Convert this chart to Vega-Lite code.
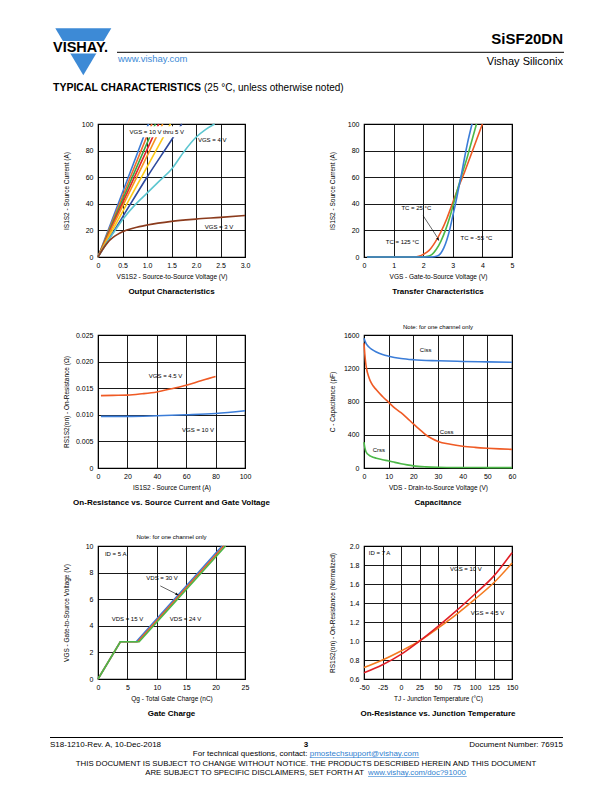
{
  "$schema": "https://vega.github.io/schema/vega-lite/v6.json",
  "autosize": {"type": "none"},
  "padding": {"left": 98, "top": 0, "right": 514, "bottom": 792},
  "background": "white",
  "columns": 2,
  "align": "each",
  "bounds": "flush",
  "spacing": {"row": 78, "column": 119},
  "resolve": {"scale": {"color": "independent"}, "legend": {"color": "independent"}},
  "config": {
    "font": "Liberation Sans",
    "view": {"stroke": "#000000", "strokeWidth": 1.2},
    "axis": {"grid": true, "gridColor": "#000000", "gridWidth": 0.9, "gridOpacity": 1, "domain": false, "ticks": false, "labelFont": "Liberation Sans", "labelFontSize": 7, "labelColor": "#000000", "labelPadding": 4, "labelOverlap": false, "labelFlush": false, "titleFont": "Liberation Sans", "titleFontSize": 6.5, "titleFontWeight": "normal", "titleColor": "#000000"},
    "axisY": {"labelPadding": 5, "titleX": -29, "titleY": 66.5},
    "axisX": {"titleY": 16, "titleX": 73.5},
    "title": {"font": "Liberation Sans", "fontSize": 8, "fontWeight": "bold", "color": "#000000", "orient": "bottom", "frame": "group", "anchor": "middle", "offset": 8.5},
    "text": {"font": "Liberation Sans", "color": "#000000"}
  },
  "datasets": {
    "out": [
      {"v": 0, "i": 0, "s": "10"}, {"v": 0.5, "i": 48.5, "s": "10"}, {"v": 1.03, "i": 100, "s": "10"},
      {"v": 0, "i": 0, "s": "9"}, {"v": 0.5, "i": 45.5, "s": "9"}, {"v": 1.1, "i": 100, "s": "9"},
      {"v": 0, "i": 0, "s": "8"}, {"v": 0.5, "i": 43, "s": "8"}, {"v": 1.17, "i": 100, "s": "8"},
      {"v": 0, "i": 0, "s": "7"}, {"v": 0.5, "i": 40.5, "s": "7"}, {"v": 1.24, "i": 100, "s": "7"},
      {"v": 0, "i": 0, "s": "6"}, {"v": 0.5, "i": 38, "s": "6"}, {"v": 1.32, "i": 100, "s": "6"},
      {"v": 0, "i": 0, "s": "5"}, {"v": 0.5, "i": 34, "s": "5"}, {"v": 1.48, "i": 100, "s": "5"},
      {"v": 0, "i": 0, "s": "4.5"}, {"v": 0.5, "i": 30, "s": "4.5"}, {"v": 1.0, "i": 60, "s": "4.5"}, {"v": 1.5, "i": 88, "s": "4.5"}, {"v": 1.71, "i": 100, "s": "4.5"},
      {"v": 0, "i": 0, "s": "4"}, {"v": 0.2, "i": 12, "s": "4"}, {"v": 0.35, "i": 20, "s": "4"}, {"v": 0.5, "i": 28, "s": "4"}, {"v": 0.75, "i": 39, "s": "4"}, {"v": 1.0, "i": 48, "s": "4"}, {"v": 1.25, "i": 57, "s": "4"}, {"v": 1.5, "i": 66, "s": "4"}, {"v": 1.75, "i": 79, "s": "4"}, {"v": 2.0, "i": 90, "s": "4"}, {"v": 2.2, "i": 96, "s": "4"}, {"v": 2.38, "i": 100, "s": "4"},
      {"v": 0, "i": 0, "s": "3"}, {"v": 0.1, "i": 6, "s": "3"}, {"v": 0.2, "i": 11, "s": "3"}, {"v": 0.3, "i": 14.5, "s": "3"}, {"v": 0.4, "i": 17, "s": "3"}, {"v": 0.5, "i": 19, "s": "3"}, {"v": 0.75, "i": 22, "s": "3"}, {"v": 1.0, "i": 24, "s": "3"}, {"v": 1.5, "i": 26.8, "s": "3"}, {"v": 2.0, "i": 28.5, "s": "3"}, {"v": 2.5, "i": 29.8, "s": "3"}, {"v": 3.0, "i": 31.2, "s": "3"}
    ],
    "tr": [
      {"v": 0.1, "i": 0, "s": "125"}, {"v": 1.7, "i": 0, "s": "125"}, {"v": 1.85, "i": 0.5, "s": "125"}, {"v": 2.0, "i": 2, "s": "125"}, {"v": 2.2, "i": 5, "s": "125"}, {"v": 2.4, "i": 11, "s": "125"}, {"v": 2.6, "i": 19, "s": "125"}, {"v": 2.8, "i": 29, "s": "125"}, {"v": 3.0, "i": 41, "s": "125"}, {"v": 3.2, "i": 53, "s": "125"}, {"v": 3.4, "i": 64, "s": "125"}, {"v": 3.6, "i": 76, "s": "125"}, {"v": 3.8, "i": 88, "s": "125"}, {"v": 4.0, "i": 100, "s": "125"},
      {"v": 0.1, "i": 0, "s": "25"}, {"v": 2.0, "i": 0, "s": "25"}, {"v": 2.15, "i": 0.5, "s": "25"}, {"v": 2.3, "i": 2, "s": "25"}, {"v": 2.45, "i": 6, "s": "25"}, {"v": 2.6, "i": 12, "s": "25"}, {"v": 2.75, "i": 20, "s": "25"}, {"v": 2.9, "i": 30, "s": "25"}, {"v": 3.05, "i": 42, "s": "25"}, {"v": 3.2, "i": 54, "s": "25"}, {"v": 3.35, "i": 65, "s": "25"}, {"v": 3.5, "i": 76, "s": "25"}, {"v": 3.65, "i": 88, "s": "25"}, {"v": 3.8, "i": 100, "s": "25"},
      {"v": 0.1, "i": 0, "s": "-55"}, {"v": 2.3, "i": 0, "s": "-55"}, {"v": 2.45, "i": 0.5, "s": "-55"}, {"v": 2.6, "i": 3, "s": "-55"}, {"v": 2.7, "i": 7, "s": "-55"}, {"v": 2.8, "i": 13, "s": "-55"}, {"v": 2.9, "i": 21, "s": "-55"}, {"v": 3.0, "i": 31, "s": "-55"}, {"v": 3.1, "i": 41, "s": "-55"}, {"v": 3.2, "i": 52, "s": "-55"}, {"v": 3.3, "i": 63, "s": "-55"}, {"v": 3.4, "i": 75, "s": "-55"}, {"v": 3.5, "i": 86, "s": "-55"}, {"v": 3.65, "i": 100, "s": "-55"}
    ],
    "rds": [
      {"a": 2, "r": 0.0136, "s": "4.5"}, {"a": 10, "r": 0.01365, "s": "4.5"}, {"a": 20, "r": 0.0137, "s": "4.5"}, {"a": 30, "r": 0.01395, "s": "4.5"}, {"a": 40, "r": 0.0143, "s": "4.5"}, {"a": 50, "r": 0.0149, "s": "4.5"}, {"a": 60, "r": 0.01555, "s": "4.5"}, {"a": 70, "r": 0.0164, "s": "4.5"}, {"a": 75, "r": 0.0168, "s": "4.5"}, {"a": 80, "r": 0.0172, "s": "4.5"},
      {"a": 2, "r": 0.0097, "s": "10"}, {"a": 20, "r": 0.0097, "s": "10"}, {"a": 40, "r": 0.00982, "s": "10"}, {"a": 60, "r": 0.01, "s": "10"}, {"a": 80, "r": 0.01025, "s": "10"}, {"a": 100, "r": 0.01075, "s": "10"}
    ],
    "cap": [
      {"v": 0, "c": 1560, "s": "Ciss"}, {"v": 0.5, "c": 1520, "s": "Ciss"}, {"v": 1, "c": 1490, "s": "Ciss"}, {"v": 2, "c": 1455, "s": "Ciss"}, {"v": 3, "c": 1430, "s": "Ciss"}, {"v": 5, "c": 1395, "s": "Ciss"}, {"v": 7.5, "c": 1365, "s": "Ciss"}, {"v": 10, "c": 1345, "s": "Ciss"}, {"v": 15, "c": 1318, "s": "Ciss"}, {"v": 20, "c": 1303, "s": "Ciss"}, {"v": 30, "c": 1290, "s": "Ciss"}, {"v": 40, "c": 1282, "s": "Ciss"}, {"v": 50, "c": 1277, "s": "Ciss"}, {"v": 60, "c": 1272, "s": "Ciss"},
      {"v": 0, "c": 1500, "s": "Coss"}, {"v": 0.3, "c": 1380, "s": "Coss"}, {"v": 0.7, "c": 1260, "s": "Coss"}, {"v": 1, "c": 1200, "s": "Coss"}, {"v": 2, "c": 1090, "s": "Coss"}, {"v": 3, "c": 1020, "s": "Coss"}, {"v": 5, "c": 940, "s": "Coss"}, {"v": 7.5, "c": 860, "s": "Coss"}, {"v": 10, "c": 790, "s": "Coss"}, {"v": 12.5, "c": 720, "s": "Coss"}, {"v": 15, "c": 665, "s": "Coss"}, {"v": 17.5, "c": 600, "s": "Coss"}, {"v": 20, "c": 530, "s": "Coss"}, {"v": 22.5, "c": 465, "s": "Coss"}, {"v": 25, "c": 400, "s": "Coss"}, {"v": 27.5, "c": 355, "s": "Coss"}, {"v": 30, "c": 320, "s": "Coss"}, {"v": 35, "c": 285, "s": "Coss"}, {"v": 40, "c": 262, "s": "Coss"}, {"v": 45, "c": 248, "s": "Coss"}, {"v": 50, "c": 238, "s": "Coss"}, {"v": 55, "c": 230, "s": "Coss"}, {"v": 60, "c": 224, "s": "Coss"},
      {"v": 0, "c": 310, "s": "Crss"}, {"v": 0.3, "c": 250, "s": "Crss"}, {"v": 0.7, "c": 205, "s": "Crss"}, {"v": 1, "c": 185, "s": "Crss"}, {"v": 2, "c": 155, "s": "Crss"}, {"v": 3, "c": 138, "s": "Crss"}, {"v": 5, "c": 118, "s": "Crss"}, {"v": 7.5, "c": 100, "s": "Crss"}, {"v": 10, "c": 85, "s": "Crss"}, {"v": 12.5, "c": 68, "s": "Crss"}, {"v": 15, "c": 52, "s": "Crss"}, {"v": 17.5, "c": 38, "s": "Crss"}, {"v": 20, "c": 26, "s": "Crss"}, {"v": 25, "c": 14, "s": "Crss"}, {"v": 30, "c": 9, "s": "Crss"}, {"v": 40, "c": 6, "s": "Crss"}, {"v": 50, "c": 5, "s": "Crss"}, {"v": 60, "c": 4, "s": "Crss"}
    ],
    "qg": [
      {"q": 0, "v": 0, "s": "15"}, {"q": 3.8, "v": 2.8, "s": "15"}, {"q": 6.5, "v": 2.8, "s": "15"}, {"q": 21.1, "v": 10, "s": "15"},
      {"q": 0, "v": 0, "s": "30"}, {"q": 3.8, "v": 2.8, "s": "30"}, {"q": 6.75, "v": 2.8, "s": "30"}, {"q": 21.4, "v": 10, "s": "30"},
      {"q": 0, "v": 0, "s": "24"}, {"q": 3.8, "v": 2.8, "s": "24"}, {"q": 7.0, "v": 2.8, "s": "24"}, {"q": 21.7, "v": 10, "s": "24"}
    ],
    "rt": [
      {"t": -50, "r": 0.72, "s": "4.5"}, {"t": -25, "r": 0.8, "s": "4.5"}, {"t": 0, "r": 0.895, "s": "4.5"}, {"t": 25, "r": 1.0, "s": "4.5"}, {"t": 50, "r": 1.135, "s": "4.5"}, {"t": 75, "r": 1.28, "s": "4.5"}, {"t": 100, "r": 1.44, "s": "4.5"}, {"t": 125, "r": 1.61, "s": "4.5"}, {"t": 150, "r": 1.82, "s": "4.5"},
      {"t": -50, "r": 0.665, "s": "10"}, {"t": -25, "r": 0.75, "s": "10"}, {"t": 0, "r": 0.86, "s": "10"}, {"t": 25, "r": 1.0, "s": "10"}, {"t": 50, "r": 1.155, "s": "10"}, {"t": 75, "r": 1.32, "s": "10"}, {"t": 100, "r": 1.495, "s": "10"}, {"t": 125, "r": 1.68, "s": "10"}, {"t": 150, "r": 1.93, "s": "10"}
    ]
  },
  "concat": [
    {
      "width": 147, "height": 46,
      "view": {"stroke": null},
      "encoding": {
        "x": {"field": "x", "type": "quantitative", "scale": {"domain": [98, 245], "nice": false, "zero": false}, "axis": null},
        "y": {"field": "y", "type": "quantitative", "scale": {"domain": [0, 46], "reverse": true, "nice": false, "zero": false}, "axis": null}
      },
      "layer": [
        {"data": {"values": [{"x": 117, "x2": 564, "y": 52.3}]}, "mark": {"type": "rule", "color": "#000000", "strokeWidth": 1}, "encoding": {"x2": {"field": "x2"}}},
        {"data": {"values": [{"x": 83.3, "y": 51.8}]}, "mark": {"type": "point", "shape": "M-1,-0.84L1,-0.84L0,0.84Z", "size": 3136, "filled": true, "color": "#3d8ad6", "opacity": 1}},
        {"data": {"values": [{"x": 52, "x2": 114, "y": 41, "y2": 53.5}]}, "mark": {"type": "rect", "color": "#ffffff"}, "encoding": {"x2": {"field": "x2"}, "y2": {"field": "y2"}}},
        {"data": {"values": [{"x": 53, "y": 52.3, "t": "VISHAY."}]}, "mark": {"type": "text", "align": "left", "baseline": "alphabetic", "fontSize": 14.5, "fontWeight": "bold"}, "encoding": {"text": {"field": "t"}}},
        {"data": {"values": [{"x": 118, "y": 62, "t": "www.vishay.com"}]}, "mark": {"type": "text", "align": "left", "baseline": "alphabetic", "fontSize": 9.5, "color": "#3d8ad6"}, "encoding": {"text": {"field": "t"}}},
        {"data": {"values": [{"x": 53, "y": 91, "t": "TYPICAL CHARACTERISTICS"}]}, "mark": {"type": "text", "align": "left", "baseline": "alphabetic", "fontSize": 10.5, "fontWeight": "bold"}, "encoding": {"text": {"field": "t"}}},
        {"data": {"values": [{"x": 204, "y": 91, "t": "(25 °C, unless otherwise noted)"}]}, "mark": {"type": "text", "align": "left", "baseline": "alphabetic", "fontSize": 10}, "encoding": {"text": {"field": "t"}}}
      ]
    },
    {
      "width": 148, "height": 46,
      "view": {"stroke": null},
      "encoding": {
        "x": {"field": "x", "type": "quantitative", "scale": {"domain": [364, 512], "nice": false, "zero": false}, "axis": null},
        "y": {"field": "y", "type": "quantitative", "scale": {"domain": [0, 46], "reverse": true, "nice": false, "zero": false}, "axis": null}
      },
      "layer": [
        {"data": {"values": [{"x": 563, "y": 44, "t": "SiSF20DN"}]}, "mark": {"type": "text", "align": "right", "baseline": "alphabetic", "fontSize": 15, "fontWeight": "bold"}, "encoding": {"text": {"field": "t"}}},
        {"data": {"values": [{"x": 563, "y": 65, "t": "Vishay Siliconix"}]}, "mark": {"type": "text", "align": "right", "baseline": "alphabetic", "fontSize": 11}, "encoding": {"text": {"field": "t"}}}
      ]
    },
    {
      "width": 147, "height": 133,
      "title": {"text": "Output Characteristics"},
      "encoding": {
        "x": {"field": "v", "type": "quantitative", "scale": {"domain": [0, 3], "nice": false, "zero": false}, "axis": {"values": [0, 0.5, 1, 1.5, 2, 2.5, 3], "labelExpr": "datum.value == 0 ? '0' : format(datum.value, '.1f')", "title": "VS1S2 - Source-to-Source Voltage (V)"}},
        "y": {"field": "i", "type": "quantitative", "scale": {"domain": [0, 100], "nice": false, "zero": false}, "axis": {"values": [0, 20, 40, 60, 80, 100], "title": "IS1S2 - Source Current (A)"}}
      },
      "layer": [
        {"data": {"name": "out"}, "mark": {"type": "line", "strokeWidth": 1.6, "interpolate": "monotone"}, "encoding": {"color": {"field": "s", "type": "nominal", "scale": {"domain": ["10", "9", "8", "7", "6", "5", "4.5", "4", "3"], "range": ["#3a7bd5", "#f26a2e", "#39a845", "#e0262d", "#f7941d", "#fcc917", "#2e4a9e", "#5cc6d0", "#8b3b1d"]}, "legend": null}}},
        {"data": {"values": [{"v": 0.62, "v2": 1.78, "i": 90, "i2": 98.3}]}, "mark": {"type": "rect", "color": "#ffffff"}, "encoding": {"x2": {"field": "v2"}, "y2": {"field": "i2"}}},
        {"data": {"values": [{"v": 1.2, "i": 94, "t": "VGS = 10 V thru 5 V"}, {"v": 2.33, "i": 88, "t": "VGS = 4 V"}, {"v": 2.47, "i": 22.5, "t": "VGS = 3 V"}]}, "mark": {"type": "text", "fontSize": 6}, "encoding": {"text": {"field": "t"}}}
      ]
    },
    {
      "width": 148, "height": 133,
      "title": {"text": "Transfer Characteristics"},
      "encoding": {
        "x": {"field": "v", "type": "quantitative", "scale": {"domain": [0, 5], "nice": false, "zero": false}, "axis": {"values": [0, 1, 2, 3, 4, 5], "title": "VGS - Gate-to-Source Voltage (V)", "titleX": 74}},
        "y": {"field": "i", "type": "quantitative", "scale": {"domain": [0, 100], "nice": false, "zero": false}, "axis": {"values": [0, 20, 40, 60, 80, 100], "title": "IS1S2 - Source Current (A)"}}
      },
      "layer": [
        {"data": {"name": "tr"}, "mark": {"type": "line", "strokeWidth": 1.6, "interpolate": "monotone"}, "encoding": {"color": {"field": "s", "type": "nominal", "scale": {"domain": ["125", "25", "-55"], "range": ["#ef5a24", "#4cb848", "#3b7dd8"]}, "legend": null}}},
        {"data": {"values": [{"v": 2.0, "i": 31, "v2": 2.47, "i2": 15}]}, "mark": {"type": "rule", "color": "#000000", "strokeWidth": 0.6}, "encoding": {"x2": {"field": "v2"}, "y2": {"field": "i2"}}},
        {"data": {"values": [{"v": 2.5, "i": 13.5}]}, "mark": {"type": "point", "shape": "M0,1L-0.55,-0.6L0.55,-0.6Z", "size": 20, "filled": true, "color": "#000000", "opacity": 1, "angle": 327.6}},
        {"data": {"values": [{"v": 1.77, "i": 36.5, "t": "TC = 25 °C"}, {"v": 1.3, "i": 11, "t": "TC = 125 °C"}, {"v": 3.8, "i": 14, "t": "TC = -55 °C"}]}, "mark": {"type": "text", "fontSize": 6}, "encoding": {"text": {"field": "t"}}}
      ]
    },
    {
      "width": 147, "height": 133,
      "title": {"text": "On-Resistance vs. Source Current and Gate Voltage"},
      "encoding": {
        "x": {"field": "a", "type": "quantitative", "scale": {"domain": [0, 100], "nice": false, "zero": false}, "axis": {"values": [0, 20, 40, 60, 80, 100], "title": "IS1S2 - Source Current (A)"}},
        "y": {"field": "r", "type": "quantitative", "scale": {"domain": [0, 0.025], "nice": false, "zero": false}, "axis": {"values": [0, 0.005, 0.01, 0.015, 0.02, 0.025], "labelExpr": "datum.value == 0 ? '0' : format(datum.value, '.3f')", "title": "RS1S2(on) - On-Resistance (Ω)"}}
      },
      "layer": [
        {"data": {"name": "rds"}, "mark": {"type": "line", "strokeWidth": 1.6, "interpolate": "monotone"}, "encoding": {"color": {"field": "s", "type": "nominal", "scale": {"domain": ["4.5", "10"], "range": ["#ef5a24", "#3b7dd8"]}, "legend": null}}},
        {"data": {"values": [{"a": 46, "r": 0.0172, "t": "VGS = 4.5 V"}, {"a": 68, "r": 0.0071, "t": "VGS = 10 V"}]}, "mark": {"type": "text", "fontSize": 6}, "encoding": {"text": {"field": "t"}}}
      ]
    },
    {
      "width": 148, "height": 133,
      "title": {"text": "Capacitance"},
      "encoding": {
        "x": {"field": "v", "type": "quantitative", "scale": {"domain": [0, 60], "nice": false, "zero": false}, "axis": {"values": [0, 10, 20, 30, 40, 50, 60], "title": "VDS - Drain-to-Source Voltage (V)", "titleX": 74}},
        "y": {"field": "c", "type": "quantitative", "scale": {"domain": [0, 1600], "nice": false, "zero": false}, "axis": {"values": [0, 400, 800, 1200, 1600], "format": "d", "title": "C - Capacitance (pF)"}}
      },
      "layer": [
        {"data": {"name": "cap"}, "mark": {"type": "line", "strokeWidth": 1.6, "interpolate": "monotone"}, "encoding": {"color": {"field": "s", "type": "nominal", "scale": {"domain": ["Ciss", "Coss", "Crss"], "range": ["#3b7dd8", "#ef5a24", "#4cb848"]}, "legend": null}}},
        {"data": {"values": [{"v": 25, "c": 1420, "t": "Ciss"}, {"v": 33.5, "c": 435, "t": "Coss"}, {"v": 6, "c": 212, "t": "Crss"}]}, "mark": {"type": "text", "fontSize": 6}, "encoding": {"text": {"field": "t"}}},
        {"data": {"values": [{"v": 30, "c": 1702, "t": "Note: for one channel only"}]}, "mark": {"type": "text", "fontSize": 6}, "encoding": {"text": {"field": "t"}}}
      ]
    },
    {
      "width": 147, "height": 133,
      "title": {"text": "Gate Charge"},
      "encoding": {
        "x": {"field": "q", "type": "quantitative", "scale": {"domain": [0, 25], "nice": false, "zero": false}, "axis": {"values": [0, 5, 10, 15, 20, 25], "title": "Qg - Total Gate Charge (nC)"}},
        "y": {"field": "v", "type": "quantitative", "scale": {"domain": [0, 10], "nice": false, "zero": false}, "axis": {"values": [0, 2, 4, 6, 8, 10], "title": "VGS - Gate-to-Source Voltage (V)"}}
      },
      "layer": [
        {"data": {"name": "qg"}, "mark": {"type": "line", "strokeWidth": 1.6}, "encoding": {"color": {"field": "s", "type": "nominal", "scale": {"domain": ["15", "30", "24"], "range": ["#3b7dd8", "#ef5a24", "#4cb848"]}, "legend": null}}},
        {"data": {"values": [{"q": 10.6, "v": 7.0, "q2": 13.2, "v2": 6.42}]}, "mark": {"type": "rule", "color": "#000000", "strokeWidth": 0.6}, "encoding": {"x2": {"field": "q2"}, "y2": {"field": "v2"}}},
        {"data": {"values": [{"q": 13.4, "v": 6.37}]}, "mark": {"type": "point", "shape": "M0,1L-0.55,-0.6L0.55,-0.6Z", "size": 20, "filled": true, "color": "#000000", "opacity": 1, "angle": 296.7}},
        {"data": {"values": [{"q": 3.0, "v": 9.4, "t": "ID = 5 A"}, {"q": 10.9, "v": 7.6, "t": "VDS = 30 V"}, {"q": 5.0, "v": 4.5, "t": "VDS = 15 V"}, {"q": 14.9, "v": 4.5, "t": "VDS = 24 V"}]}, "mark": {"type": "text", "fontSize": 6}, "encoding": {"text": {"field": "t"}}},
        {"data": {"values": [{"q": 12.5, "v": 10.64, "t": "Note: for one channel only"}]}, "mark": {"type": "text", "fontSize": 6}, "encoding": {"text": {"field": "t"}}}
      ]
    },
    {
      "width": 148, "height": 133,
      "title": {"text": "On-Resistance vs. Junction Temperature"},
      "encoding": {
        "x": {"field": "t", "type": "quantitative", "scale": {"domain": [-50, 150], "nice": false, "zero": false}, "axis": {"values": [-50, -25, 0, 25, 50, 75, 100, 125, 150], "labelExpr": "'' + datum.value", "title": "TJ - Junction Temperature (°C)", "titleX": 74}},
        "y": {"field": "r", "type": "quantitative", "scale": {"domain": [0.6, 2.0], "nice": false, "zero": false}, "axis": {"values": [0.6, 0.8, 1.0, 1.2, 1.4, 1.6, 1.8, 2.0], "format": ".1f", "title": "RS1S2(on) - On-Resistance (Normalized)"}}
      },
      "layer": [
        {"data": {"name": "rt"}, "mark": {"type": "line", "strokeWidth": 1.6, "interpolate": "monotone"}, "encoding": {"color": {"field": "s", "type": "nominal", "scale": {"domain": ["4.5", "10"], "range": ["#f47b20", "#e11f26"]}, "legend": null}}},
        {"data": {"values": [{"t": -29, "r": 1.93, "tx": "ID = 7 A"}, {"t": 87.7, "r": 1.755, "tx": "VGS = 10 V"}, {"t": 117, "r": 1.29, "tx": "VGS = 4.5 V"}]}, "mark": {"type": "text", "fontSize": 6}, "encoding": {"text": {"field": "tx"}}}
      ]
    },
    {
      "width": 147, "height": 35,
      "view": {"stroke": null},
      "encoding": {
        "x": {"field": "x", "type": "quantitative", "scale": {"domain": [98, 245], "nice": false, "zero": false}, "axis": null},
        "y": {"field": "y", "type": "quantitative", "scale": {"domain": [757, 792], "reverse": true, "nice": false, "zero": false}, "axis": null}
      },
      "layer": [
        {"data": {"values": [{"x": 50, "x2": 563, "y": 737.5}]}, "mark": {"type": "rule", "color": "#000000", "strokeWidth": 1}, "encoding": {"x2": {"field": "x2"}}},
        {"data": {"values": [{"x": 50, "y": 746.5, "t": "S18-1210-Rev. A, 10-Dec-2018"}, {"x": 192.8, "y": 756, "t": "For technical questions, contact: "}]}, "mark": {"type": "text", "align": "left", "baseline": "alphabetic", "fontSize": 8}, "encoding": {"text": {"field": "t"}}},
        {"data": {"values": [{"x": 306, "y": 746.5, "t": "3"}]}, "mark": {"type": "text", "align": "center", "baseline": "alphabetic", "fontSize": 8, "fontWeight": "bold"}, "encoding": {"text": {"field": "t"}}},
        {"data": {"values": [{"x": 309.7, "y": 756, "t": "pmostechsupport@vishay.com"}]}, "mark": {"type": "text", "align": "left", "baseline": "alphabetic", "fontSize": 8, "color": "#2f7fd0"}, "encoding": {"text": {"field": "t"}}},
        {"data": {"values": [{"x": 306, "y": 766, "t": "THIS DOCUMENT IS SUBJECT TO CHANGE WITHOUT NOTICE. THE PRODUCTS DESCRIBED HEREIN AND THIS DOCUMENT"}]}, "mark": {"type": "text", "align": "center", "baseline": "alphabetic", "fontSize": 7.8}, "encoding": {"text": {"field": "t"}}},
        {"data": {"values": [{"x": 145.2, "y": 775, "t": "ARE SUBJECT TO SPECIFIC DISCLAIMERS, SET FORTH AT "}]}, "mark": {"type": "text", "align": "left", "baseline": "alphabetic", "fontSize": 7.8}, "encoding": {"text": {"field": "t"}}},
        {"data": {"values": [{"x": 368, "y": 775, "t": "www.vishay.com/doc?91000"}]}, "mark": {"type": "text", "align": "left", "baseline": "alphabetic", "fontSize": 7.8, "color": "#2f7fd0"}, "encoding": {"text": {"field": "t"}}},
        {"data": {"values": [{"x": 309.7, "x2": 419.2, "y": 757.5}, {"x": 368, "x2": 466.8, "y": 776.5}]}, "mark": {"type": "rule", "color": "#2f7fd0", "strokeWidth": 0.6}, "encoding": {"x2": {"field": "x2"}}}
      ]
    },
    {
      "width": 148, "height": 35,
      "view": {"stroke": null},
      "encoding": {
        "x": {"field": "x", "type": "quantitative", "scale": {"domain": [364, 512], "nice": false, "zero": false}, "axis": null},
        "y": {"field": "y", "type": "quantitative", "scale": {"domain": [757, 792], "reverse": true, "nice": false, "zero": false}, "axis": null}
      },
      "layer": [
        {"data": {"values": [{"x": 563, "y": 746.5, "t": "Document Number: 76915"}]}, "mark": {"type": "text", "align": "right", "baseline": "alphabetic", "fontSize": 8}, "encoding": {"text": {"field": "t"}}}
      ]
    }
  ]
}
